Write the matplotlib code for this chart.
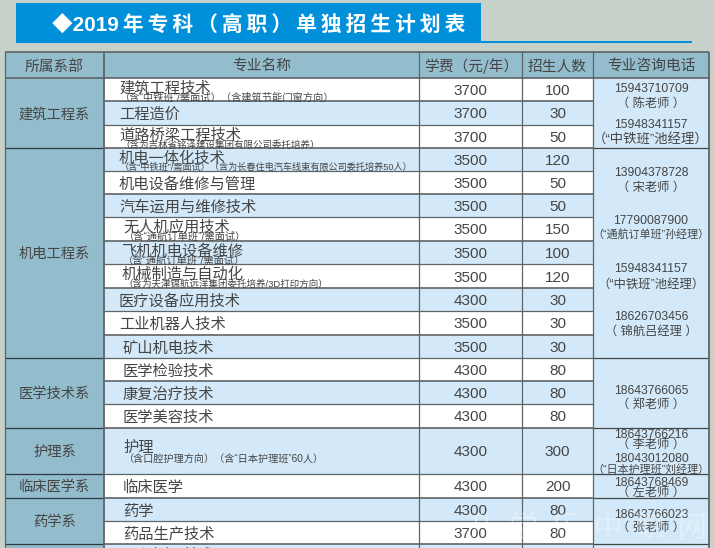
import matplotlib
matplotlib.use("Agg")
import matplotlib.pyplot as plt
from matplotlib.patches import Rectangle

CJK = ['Noto Sans CJK SC', 'DejaVu Sans']
NUM = ['Liberation Sans', 'Noto Sans CJK SC']
TITLE_FONT = ['Liberation Sans', 'Noto Sans CJK SC', 'DejaVu Sans']

title = "◆2019年专科（高职）单独招生计划表"
headers = ["所属系部", "专业名称", "学费（元/年）", "招生人数", "专业咨询电话"]
departments = ["建筑工程系", "机电工程系", "医学技术系", "护理系", "临床医学系", "药学系"]
dept_spans = [3, 9, 3, 1, 1, 2]
majors = ["建筑工程技术", "工程造价", "道路桥梁工程技术", "机电一体化技术", "机电设备维修与管理",
          "汽车运用与维修技术", "无人机应用技术", "飞机机电设备维修", "机械制造与自动化",
          "医疗设备应用技术", "工业机器人技术", "矿山机电技术", "医学检验技术", "康复治疗技术",
          "医学美容技术", "护理", "临床医学", "药学", "药品生产技术"]
notes = ["（含“中铁班”/需面试）（含建筑节能门窗方向）", "", "（含为吉林省铭泽建设集团有限公司委托培养）",
         "（含“中铁班”/需面试）（含为长春住电汽车线束有限公司委托培养50人）", "", "",
         "（含“通航订单班”/需面试）", "（含“通航订单班”/需面试）", "（含为天津锦航远洋集团委托培养/3D打印方向）",
         "", "", "", "", "", "", "（含口腔护理方向）（含“日本护理班”60人）", "", "", ""]
fees = [3700, 3700, 3700, 3500, 3500, 3500, 3500, 3500, 3500, 4300, 3500, 3500, 4300, 4300, 4300, 4300, 4300, 4300, 3700]
counts = [100, 30, 50, 120, 50, 50, 150, 100, 120, 30, 30, 30, 80, 80, 80, 300, 200, 80, 80]
contact_spans = [3, 9, 3, 1, 1, 2]
contacts = ["15943710709", "（ 陈老师 ）", "15948341157", "（“中铁班”池经理）",
            "13904378728", "（ 宋老师 ）", "17790087900", "（“通航订单班”孙经理）",
            "15948341157", "（“中铁班”池经理）", "18626703456", "（ 锦航吕经理 ）",
            "18643766065", "（ 郑老师 ）", "18643766216", "（ 李老师 ）",
            "18043012080", "（“日本护理班”刘经理）", "18643768469", "（ 左老师 ）",
            "18643766023", "（ 张老师 ）"]
cut_off_major = "工程测量技术"
watermark = "升学乐中职网"

# ---- layout (pixels) ----
BG, BLUE, HEAD, LIGHT = '#c6d2c9', '#0090da', '#93bccc', '#d3e9f9'
INK, LINE = '#454545', '#5f6466'
COL_X = [5, 104, 419, 522, 593, 709]
TOP, HEAD_B = 52, 78
ROW_Y = [78, 101, 124.5, 147.5, 171, 194, 217, 241, 264, 288, 311, 334.5, 357.5, 381, 404,
         427.5, 474, 497.5, 521, 544, 548]
NAME_X = [119, 119, 119, 119, 119, 119, 123, 122, 122, 119, 119, 123, 123, 123, 123, 123, 123, 123, 123]
NOTE_W = [215, 0, 202, 295, 0, 0, 123, 123, 205, 0, 0, 0, 0, 0, 0, 201, 0, 0, 0]
CONTACT_Y = [88, 102, 123, 139, 172, 186, 220, 233, 267, 283, 316, 330, 389, 403,
             433, 443, 457, 468, 481, 491, 513, 526]
CONTACT_SIZE = [8.7, 8.8, 8.7, 9.6, 8.7, 8.8, 8.7, 7.9, 8.7, 8.9, 8.7, 8.8, 8.7, 8.8,
                8.7, 8.8, 8.7, 7.9, 8.7, 8.8, 8.7, 8.8]

fig = plt.figure(figsize=(7.14, 5.48), dpi=100, facecolor=BG)
ax = fig.add_axes([0, 0, 1, 1])
ax.set_xlim(0, 714)
ax.set_ylim(548, 0)
ax.axis('off')
renderer = fig.canvas.get_renderer()

def rect(x0, y0, x1, y1, color, z=1):
    ax.add_patch(Rectangle((x0, y0), x1 - x0, y1 - y0, fc=color, ec='none', zorder=z))

def hline(y, x0, x1, c=LINE, lw=0.9):
    ax.plot([x0, x1], [y, y], color=c, lw=lw, zorder=4, solid_capstyle='butt')

def vline(x, y0, y1, c=LINE, lw=1.0):
    ax.plot([x, x], [y0, y1], color=c, lw=lw, zorder=4, solid_capstyle='butt')

def txt(x, y, s, size, fam=CJK, ha='center', color=INK, **kw):
    return ax.text(x, y, s, fontsize=size, family=fam, ha=ha, va='center_baseline', color=color, zorder=5, **kw)

def spaced(s):
    out = ""
    for a, b in zip(s, s[1:] + " "):
        out += a
        if not (a.isdigit() and b.isdigit()) and a != "◆" and b != " ":
            out += "\u2009"
    return out

# banner
rect(16, 3, 481, 43, BLUE)
rect(481, 41, 692, 43, BLUE)
ax.text(52, 24, spaced(title), fontsize=14.9, family=TITLE_FONT, weight='bold', color='white',
        ha='left', va='center_baseline', zorder=5)

# header
rect(COL_X[0], TOP, COL_X[-1], HEAD_B, HEAD)
for i, h in enumerate(headers):
    txt((COL_X[i] + COL_X[i + 1]) / 2 + (1 if i == 2 else 0), 65, h, 10.6)

# body fills
n_rows = len(ROW_Y) - 1
for r in range(n_rows):
    rect(COL_X[1], ROW_Y[r], COL_X[4], ROW_Y[r + 1], LIGHT if r % 2 else 'white')
rect(COL_X[0], HEAD_B, COL_X[1], ROW_Y[-1], HEAD)
rect(COL_X[4], HEAD_B, COL_X[5], ROW_Y[-1], LIGHT)

# rows
for r, (m, note, fee, cnt) in enumerate(zip(majors, notes, fees, counts)):
    y0, y1 = ROW_Y[r], ROW_Y[r + 1]
    mid = (y0 + y1) / 2
    if note:
        tall = y1 - y0 > 30
        name_y = mid - 5 if tall else y0 + 8.5
        note_y = mid + 7 if tall else y0 + 19
        txt(NAME_X[r], name_y, m, 11, ha='left')
        t = txt(NAME_X[r] + 1, note_y, note, 6.8, fam=NUM, ha='left')
        w = t.get_window_extent(renderer).width
        t.set_fontsize(6.8 * NOTE_W[r] / w)
    else:
        txt(NAME_X[r], mid, m, 11, ha='left')
    txt((COL_X[2] + COL_X[3]) / 2, mid, str(fee), 11, fam=NUM)
    txt((COL_X[3] + COL_X[4]) / 2, mid, str(cnt), 11, fam=NUM)
    hline(y1, COL_X[1], COL_X[4], lw=0.9 if r % 2 else 1.2)
txt(NAME_X[-1], 553, cut_off_major, 11, ha='left')

# departments
k = 0
for d, s in zip(departments, dept_spans):
    y0, y1 = ROW_Y[k], ROW_Y[k + s]
    txt((COL_X[0] + COL_X[1]) / 2, (y0 + y1) / 2, d, 10.3)
    hline(y1, COL_X[0], COL_X[1], c='#2f3a40')
    k += s

# contact cell separators
k = 0
for s in contact_spans:
    k += s
    hline(ROW_Y[k], COL_X[4], COL_X[5], c='#3f4548')

for y, s, sz in zip(CONTACT_Y, contacts, CONTACT_SIZE):
    txt(651, y, s, sz, fam=NUM)

# frame
hline(TOP, COL_X[0], COL_X[-1], lw=1.2)
hline(HEAD_B, COL_X[0], COL_X[-1], lw=1.2)
for i, x in enumerate(COL_X):
    vline(x, TOP, 548, lw=1.3 if i in (1, 5) else 0.9)

# watermark
ax.text(587, 529, "  ".join(watermark), fontsize=21, family=CJK, color='white', alpha=0.3,
        ha='center', va='center', zorder=6)

fig.savefig("out.png", dpi=100, facecolor=BG)
